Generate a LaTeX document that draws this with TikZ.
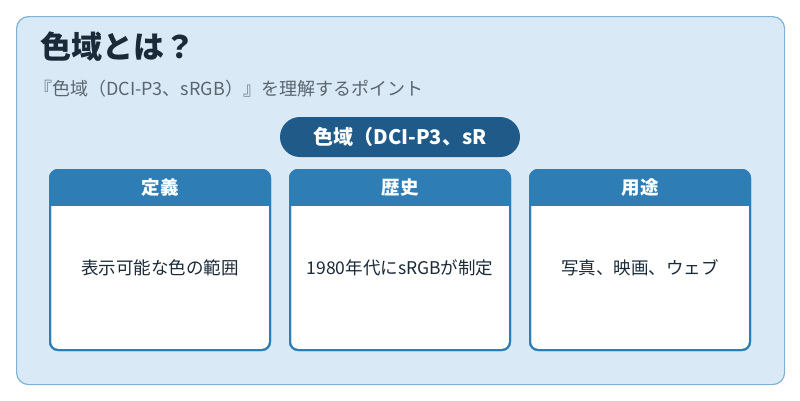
\documentclass[tikz,border=0pt]{standalone}
\usepackage{fontspec}
\setmainfont{Noto Sans CJK JP}
\definecolor{bgc}{HTML}{D9EAF6}
\definecolor{bdc}{HTML}{7FB2D6}
\definecolor{hdc}{HTML}{2E7DB5}
\definecolor{pillc}{HTML}{1F5A89}
\definecolor{titc}{HTML}{1B2A38}
\definecolor{subc}{HTML}{5A6570}
\begin{document}
\begin{tikzpicture}[x=1pt,y=-1pt,
 card/.style={draw=hdc,line width=2pt,fill=white,rounded corners=8pt},
 head/.style={text=white,font=\fontsize{18.5}{22}\selectfont\bfseries},
 body/.style={text=titc,font=\fontsize{17.5}{21}\selectfont}]
\useasboundingbox (0,0) rectangle (800,400);
\node[draw=bdc,line width=1.2pt,fill=bgc,rounded corners=12pt,minimum width=768pt,minimum height=368pt,anchor=north west] (bg) at (16,16) {};
\node[anchor=west,inner sep=0pt,text=titc,font=\fontsize{31}{36}\selectfont\bfseries] (title) at (40,47) {色域とは？};
\node[anchor=west,inner sep=0pt,text=subc,font=\fontsize{18}{21}\selectfont] (sub) at (34,89) {『色域（DCI-P3、sRGB）』を理解するポイント};
\node[fill=pillc,rounded corners=20pt,minimum width=240pt,minimum height=40pt,text=white,font=\fontsize{20}{24}\selectfont\bfseries] (pill) at (400,137) {色域（DCI-P3、sR};
\foreach \x/\n/\h/\b in {50/a/定義/表示可能な色の範囲,290/b/歴史/1980年代にsRGBが制定,530/c/用途/写真、映画、ウェブ}{
 \begin{scope}
 \path[card] (\x,170) rectangle ++(220,180);
 \clip[rounded corners=8pt] (\x,170) rectangle ++(220,180);
 \fill[hdc] (\x,170) rectangle ++(220,36);
 \end{scope}
 \draw[hdc,line width=2pt,rounded corners=8pt] (\x,170) rectangle ++(220,180);
 \node[head] (h\n) at (\x+110,188) {\h};
 \node[body] (t\n) at (\x+110,268) {\b};
}
\end{tikzpicture}
\end{document}
